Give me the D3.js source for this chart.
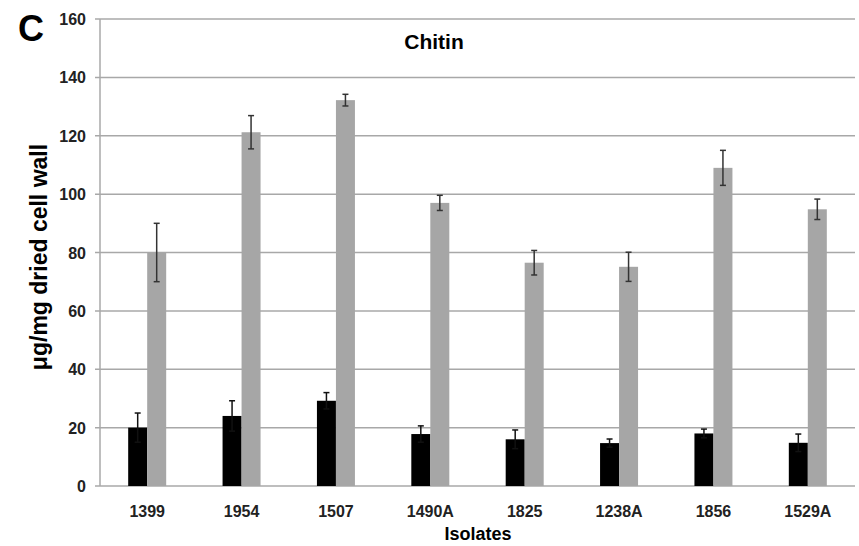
<!DOCTYPE html>
<html>
<head>
<meta charset="utf-8">
<script src="https://cdn.jsdelivr.net/npm/d3@7"></script>
<style>
  body { margin: 0; background: #fff; }
  text { font-family: "Liberation Sans", Arial, sans-serif; font-weight: bold; }
</style>
</head>
<body>
<svg id="chart"></svg>
<script>
// data
const isolates = ['1399', '1954', '1507', '1490A', '1825', '1238A', '1856', '1529A'];
const blackValues = [20, 24, 29.2, 17.8, 16, 14.7, 18, 14.8];
const blackErrors = [5, 5.2, 2.8, 2.8, 3.2, 1.4, 1.5, 3];
const grayValues = [80, 121.2, 132.2, 97, 76.5, 75.1, 109, 94.8];
const grayErrors = [10, 5.7, 2, 2.6, 4.2, 5, 6, 3.5];
const yTicks = [0, 20, 40, 60, 80, 100, 120, 140, 160];

const width = 859;
const height = 546;
const margin = { top: 19, right: 4, bottom: 60, left: 100 };

const svg = d3.select('#chart')
  .attr('width', width)
  .attr('height', height);

// scales
const x = d3.scaleBand()
  .domain(isolates)
  .range([margin.left, width - margin.right]);

const y = d3.scaleLinear()
  .domain([0, 160])
  .range([height - margin.bottom, margin.top]);

const barW = 19;

// gridlines
svg.append('g')
  .selectAll('line')
  .data(yTicks)
  .enter()
  .append('line')
  .attr('x1', margin.left - 5)
  .attr('x2', width - margin.right)
  .attr('y1', (d) => y(d))
  .attr('y2', (d) => y(d))
  .attr('stroke', '#a8a8a8')
  .attr('stroke-width', 1.5);

// y axis line
svg.append('line')
  .attr('x1', margin.left)
  .attr('x2', margin.left)
  .attr('y1', y(160))
  .attr('y2', y(0))
  .attr('stroke', '#a8a8a8')
  .attr('stroke-width', 1.5);

// y tick labels
svg.append('g')
  .selectAll('text')
  .data(yTicks)
  .enter()
  .append('text')
  .attr('x', margin.left - 14)
  .attr('y', (d) => y(d) + 6)
  .attr('text-anchor', 'end')
  .attr('font-size', 16)
  .attr('fill', '#222')
  .text((d) => d);

// bars
const rows = isolates.map((k, i) => ({
  key: k, b: blackValues[i], be: blackErrors[i], g: grayValues[i], ge: grayErrors[i]
}));

const groups = svg.append('g')
  .selectAll('g')
  .data(rows)
  .enter()
  .append('g');

groups.append('rect')
  .attr('x', (d) => x(d.key) + x.bandwidth() / 2 - barW)
  .attr('y', (d) => y(d.b))
  .attr('width', barW)
  .attr('height', (d) => y(0) - y(d.b))
  .attr('fill', '#000');

groups.append('rect')
  .attr('x', (d) => x(d.key) + x.bandwidth() / 2)
  .attr('y', (d) => y(d.g))
  .attr('width', barW)
  .attr('height', (d) => y(0) - y(d.g))
  .attr('fill', '#a6a6a6');

// error bars
function errorBar(sel, cx, val, err, color) {
  sel.append('line')
    .attr('x1', cx).attr('x2', cx)
    .attr('y1', (d) => y(val(d) + err(d)))
    .attr('y2', (d) => y(val(d) - err(d)))
    .attr('stroke', color).attr('stroke-width', 1.5);
  [1, -1].forEach((s) => {
    sel.append('line')
      .attr('x1', (d) => cx(d) - 3).attr('x2', (d) => cx(d) + 3)
      .attr('y1', (d) => y(val(d) + s * err(d)))
      .attr('y2', (d) => y(val(d) + s * err(d)))
      .attr('stroke', color).attr('stroke-width', 1.5);
  });
}
errorBar(groups, (d) => x(d.key) + x.bandwidth() / 2 - barW / 2, (d) => d.b, (d) => d.be, '#111');
errorBar(groups, (d) => x(d.key) + x.bandwidth() / 2 + barW / 2, (d) => d.g, (d) => d.ge, '#333');

// x labels
svg.append('g')
  .selectAll('text')
  .data(isolates)
  .enter()
  .append('text')
  .attr('x', (d) => x(d) + x.bandwidth() / 2)
  .attr('y', y(0) + 31)
  .attr('text-anchor', 'middle')
  .attr('font-size', 16)
  .attr('fill', '#222')
  .text((d) => d);

// titles
svg.append('text')
  .attr('x', 434)
  .attr('y', 49)
  .attr('text-anchor', 'middle')
  .attr('font-size', 21)
  .text('Chitin');

svg.append('text')
  .attr('x', 18)
  .attr('y', 41)
  .attr('font-size', 36)
  .text('C');

svg.append('text')
  .attr('text-anchor', 'middle')
  .attr('transform', `translate(47, 257) rotate(-90)`)
  .attr('font-size', 23)
  .text('μg/mg dried cell wall');

svg.append('text')
  .attr('x', 478)
  .attr('y', 540)
  .attr('text-anchor', 'middle')
  .attr('font-size', 18)
  .text('Isolates');
</script>
</body>
</html>
